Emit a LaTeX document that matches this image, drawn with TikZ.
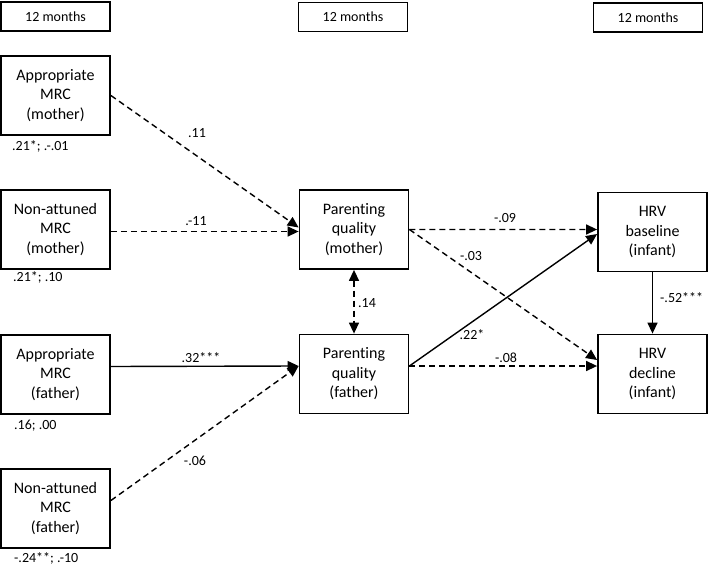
\documentclass[tikz,border=0pt]{standalone}
\usepackage{fontspec}
\setmainfont{Carlito}[Ligatures=NoCommon]
\usetikzlibrary{arrows.meta}
\begin{document}
\begin{tikzpicture}[x=1bp,y=-1bp,
  box/.style={draw,line width=1.8bp,minimum width=109bp,minimum height=79bp,inner sep=0pt,align=center,font=\fontsize{16bp}{19.5bp}\selectfont},
  tbox/.style={draw,line width=1.8bp,minimum width=109bp,minimum height=29bp,inner sep=0pt,font=\fontsize{14bp}{17bp}\selectfont},
  lbl/.style={font=\fontsize{14bp}{17bp}\selectfont,inner sep=1bp},
  conn/.style={line width=1.4bp,-{Triangle[length=11bp,width=10bp]}},
  dsh/.style={dash pattern=on 6bp off 4bp}]
\useasboundingbox (0,0) rectangle (709,566);
% top labels
\node[tbox] (t1) at (55.5,16.5) {12 months};
\node[tbox] (t2) at (353,17) {12 months};
\node[tbox] (t3) at (648,17.5) {12 months};
% left boxes
\node[box] (am) at (55.5,95.5) {Appropriate\\MRC\\(mother)};
\node[box] (nm) at (55.5,229.5) {Non-attuned\\MRC\\(mother)};
\node[box] (af) at (55.5,374.5) {Appropriate\\MRC\\(father)};
\node[box] (nf) at (55.5,508.5) {Non-attuned\\MRC\\(father)};
% middle boxes
\node[box] (pm) at (354,229.5) {Parenting\\quality\\(mother)};
\node[box] (pf) at (354,374) {Parenting\\quality\\(father)};
% right boxes
\node[box] (hb) at (652.5,232) {HRV\\baseline\\(infant)};
\node[box] (hd) at (652.5,374) {HRV\\decline\\(infant)};
% under-box labels
\node[lbl,anchor=west] (lam) at (11,146) {.21*; .-.01};
\node[lbl,anchor=west] (lnm) at (12,277) {.21*; .10};
\node[lbl,anchor=west] (laf) at (13,426) {.16; .00};
\node[lbl,anchor=west] (lnf) at (13,558) {-.24**; .-10};
% connectors
\draw[conn,dsh] (am.east) -- ([yshift=2bp]pm.west);
\draw[conn,dsh] ([yshift=-2bp]nm.east) -- ([yshift=-2bp]pm.west);
\draw[conn] ([yshift=8bp]af.east) -- ([yshift=8bp]pf.west);
\draw[conn,dsh] ([yshift=8bp]nf.east) -- ([yshift=8bp]pf.west);
\draw[line width=1.4bp,{Triangle[length=11bp,width=10bp]}-{Triangle[length=11bp,width=10bp]},dsh] (pm.south) -- (pf.north);
\draw[conn,dsh] (pm.east) -- ([yshift=2.5bp]hb.west);
\draw[conn,dsh] (pm.east) -- ([yshift=14bp]hd.west);
\draw[conn] ([yshift=8bp]pf.east) -- ([yshift=-2bp]hb.west);
\draw[conn,dsh] ([yshift=8bp]pf.east) -- ([yshift=8bp]hd.west);
\draw[conn] (hb.south) -- (hd.north);
% path labels
\node[lbl] (l1) at (197,133) {.11};
\node[lbl] (l2) at (196,221) {.-11};
\node[lbl] (l3) at (201,358) {.32***};
\node[lbl] (l4) at (195,461) {-.06};
\node[lbl,anchor=west] (l5) at (357,303) {.14};
\node[lbl] (l6) at (505,218) {-.09};
\node[lbl] (l7) at (471,256) {-.03};
\node[lbl] (l8) at (472,335) {.22*};
\node[lbl] (l9) at (506,358) {-.08};
\node[lbl,anchor=west] (l10) at (659,298) {-.52***};
\end{tikzpicture}
\end{document}
